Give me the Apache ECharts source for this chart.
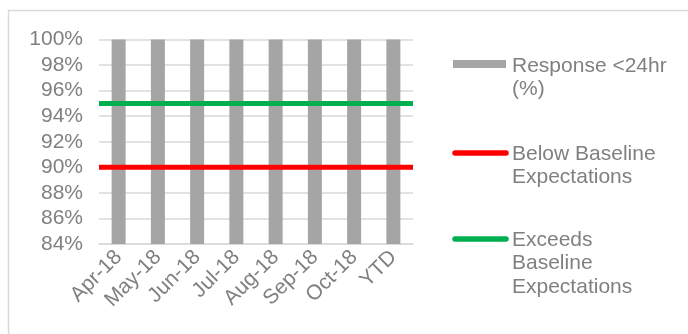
<!DOCTYPE html>
<html>
<head>
<meta charset="utf-8">
<script src="https://cdn.jsdelivr.net/npm/echarts@6/dist/echarts.min.js"></script>
<style>
  html, body { margin: 0; padding: 0; background: #ffffff; }
  #chart { width: 688px; height: 334px; }
</style>
</head>
<body>
<div id="chart"></div>
<script>
// Monthly share of requests answered within 24 hours, with the two baseline thresholds
const categories = ['Apr-18', 'May-18', 'Jun-18', 'Jul-18', 'Aug-18', 'Sep-18', 'Oct-18', 'YTD'];
const responseWithin24hr = [100, 100, 100, 100, 100, 100, 100, 100];
const belowBaseline = [90, 90, 90, 90, 90, 90, 90, 90];
const exceedsBaseline = [95, 95, 95, 95, 95, 95, 95, 95];
const yMin = 84;
const yMax = 100;
const yStep = 2;
const seriesNames = ['Response <24hr (%)', 'Below Baseline Expectations', 'Exceeds Baseline Expectations'];
const legendLabels = ['Response <24hr\n(%)', 'Below Baseline\nExpectations', 'Exceeds\nBaseline\nExpectations'];

const TEXT = '#808080';
const GRIDLINE = '#d9d9d9';
const FONT = '"Liberation Sans", Arial, sans-serif';
const colors = ['#a5a5a5', '#ff0000', '#00b050'];

const chart = echarts.init(document.getElementById('chart'), null, { renderer: 'canvas' });

// Legend drawn as icon + wrapped text, icon level with the first text line
const legendX = 453, textX = 512, lineH = 23.5;
const legendRows = [
  { icon: 64, text: 66, kind: 'rect' },
  { icon: 153, text: 154, kind: 'line' },
  { icon: 239, text: 240, kind: 'line' }
];
const legendGraphics = [];
legendRows.forEach((row, i) => {
  if (row.kind === 'rect') {
    legendGraphics.push({
      type: 'rect', silent: true,
      shape: { x: legendX, y: row.icon - 4, width: 53, height: 8 },
      style: { fill: colors[i] }
    });
  } else {
    legendGraphics.push({
      type: 'line', silent: true,
      shape: { x1: legendX + 2, y1: row.icon, x2: legendX + 53, y2: row.icon },
      style: { stroke: colors[i], lineWidth: 5.5, lineCap: 'round' }
    });
  }
  legendGraphics.push({
    type: 'text', x: textX, y: row.text - lineH / 2, silent: true,
    style: {
      text: legendLabels[i], fill: TEXT, font: '21px ' + FONT,
      lineHeight: lineH, verticalAlign: 'top', align: 'left'
    }
  });
});

const option = {
  animation: false,
  backgroundColor: '#ffffff',
  grid: { left: 99, right: 275, top: 39.5, bottom: 90, containLabel: false },
  xAxis: [
    {
      type: 'category', data: categories, boundaryGap: true,
      axisLine: { show: true, lineStyle: { color: GRIDLINE, width: 1.5 } },
      axisTick: { show: false },
      axisLabel: { rotate: 45, margin: 10, color: TEXT, fontSize: 21, fontFamily: FONT, interval: 0 },
      splitLine: { show: false }
    },
    {
      type: 'category', data: categories, boundaryGap: false, show: false
    }
  ],
  yAxis: {
    type: 'value', min: yMin, max: yMax, interval: yStep,
    axisLine: { show: false }, axisTick: { show: false },
    axisLabel: { color: TEXT, fontSize: 21, fontFamily: FONT, margin: 16, formatter: v => v + '%' },
    splitLine: { show: true, lineStyle: { color: GRIDLINE, width: 1.5 } }
  },
  series: [
    {
      name: seriesNames[0], type: 'bar', data: responseWithin24hr,
      barWidth: 14, itemStyle: { color: colors[0] }, z: 2
    },
    {
      name: seriesNames[1], type: 'line', xAxisIndex: 1, data: belowBaseline,
      symbol: 'none', lineStyle: { color: colors[1], width: 5 }, z: 3
    },
    {
      name: seriesNames[2], type: 'line', xAxisIndex: 1, data: exceedsBaseline,
      symbol: 'none', lineStyle: { color: colors[2], width: 5 }, z: 3
    }
  ],
  graphic: [
    {
      type: 'rect', silent: true,
      shape: { x: 8.5, y: 10.5, width: 700, height: 340 },
      style: { fill: 'none', stroke: GRIDLINE, lineWidth: 1.5 }
    }
  ].concat(legendGraphics)
};

chart.setOption(option);
</script>
</body>
</html>
